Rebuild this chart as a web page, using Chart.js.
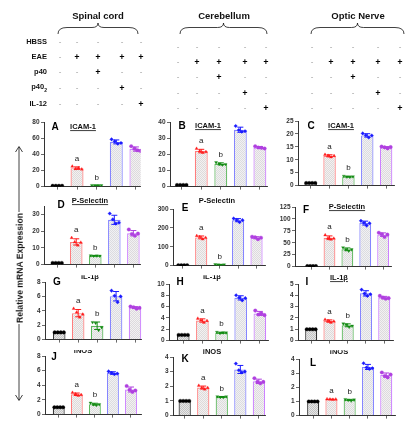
<!DOCTYPE html>
<html>
<head>
<meta charset="utf-8">
<script src="https://cdn.jsdelivr.net/npm/chart.js@4.4.0/dist/chart.umd.min.js"></script>
<style>
html, body { margin: 0; padding: 0; background: #fff; }
#fig { position: relative; width: 418px; height: 424px; overflow: hidden; font-family: "Liberation Sans", Arial, sans-serif; }
.t { position: absolute; white-space: nowrap; font-weight: bold; color: #111; transform: translate(-50%, -50%); line-height: 1; will-change: transform; }
canvas { position: absolute; }
svg { position: absolute; left: 0; top: 0; }
</style>
</head>
<body>
<div id="fig">
  <svg id="lines" width="418" height="424"></svg>
</div>
<script>
// treatment table
const regions = ['Spinal cord', 'Cerebellum', 'Optic Nerve'];
const treatments = ['HBSS', 'EAE', 'p40', 'p40<sub style="font-size:5px">2</sub>', 'IL-12'];
const signs = [
  ['-', '-', '-', '-', '-'],
  ['-', '+', '+', '+', '+'],
  ['-', '-', '+', '-', '-'],
  ['-', '-', '-', '+', '-'],
  ['-', '-', '-', '-', '+']
];

// panels
const panelLetters = ['A', 'B', 'C', 'D', 'E', 'F', 'G', 'H', 'I', 'J', 'K', 'L'];
const genes = ['ICAM-1', 'P-Selectin', 'IL-1β', 'iNOS'];
const yMax = [80, 40, 25, 35, 300, 125, 8, 10, 5, 8, 4, 4];
const yStep = [20, 10, 5, 5, 100, 25, 2, 2, 1, 2, 1, 1];
const sigLetters = ['', 'a', 'b', '', ''];

// replicate values, groups: HBSS, EAE, EAE+p40, EAE+p40(2), EAE+IL-12
const icamSC = [[1, 1, 1, 1], [25, 22, 23, 21.5], [1.6, 1.4, 1.5, 1.5], [58.5, 56, 53, 54], [50, 47, 45, 44]];
const icamCB = [[1, 1, 1, 1], [23.5, 22, 21, 21.5], [15, 14, 13.5, 13.8], [37.5, 35, 34, 34.3], [25, 24.2, 24, 23.6]];
const icamON = [[1, 1, 1, 1], [12, 11.6, 11, 11.5], [3.7, 3.4, 3.3, 3.5], [20.2, 19.5, 18.6, 19.4], [15.1, 14.8, 14.4, 14.9]];
const pselSC = [[1, 1, 1, 1], [16, 13.5, 11.5, 13.2], [5.4, 5.2, 5.3, 5.2], [30.5, 27, 24.5, 25], [21, 18.3, 17.2, 18.5]];
const pselCB = [[2, 2, 2, 2], [158, 152, 140, 148], [6, 5, 4, 5], [250, 242, 230, 241], [153, 150, 140, 148]];
const pselON = [[1, 1, 1, 1], [66, 60, 57, 59], [40, 36, 33, 36], [96, 92, 86, 91], [71, 68, 62, 67]];
const il1bSC = [[1, 1, 1, 1], [4.3, 3.8, 3.1, 3.5], [2.4, 2.3, 1.3, 1.7], [6.8, 6.1, 5.2, 6.0], [4.6, 4.5, 4.3, 4.4]];
const il1bCB = [[1, 1, 1, 1], [3.9, 3.6, 3.2, 3.5], [1.5, 1.3, 1.4, 1.4], [8.0, 7.6, 7.1, 7.5], [5.3, 4.6, 4.8, 4.5]];
const il1bON = [[1, 1, 1, 1], [1.85, 1.75, 1.6, 1.7], [1.5, 1.4, 1.2, 1.3], [4.5, 4.15, 3.95, 4.1], [3.95, 3.8, 3.7, 3.75]];
const inosSC = [[1, 1, 1, 1], [3.0, 2.8, 2.6, 2.7], [1.6, 1.4, 1.3, 1.4], [5.9, 5.7, 5.5, 5.6], [3.9, 3.4, 3.1, 3.3]];
const inosCB = [[1, 1, 1, 1], [2.05, 1.9, 1.8, 1.9], [1.3, 1.25, 1.25, 1.3], [3.55, 3.1, 2.95, 3.0], [2.55, 2.3, 2.2, 2.3]];
const inosON = [[1, 1, 1, 1], [1.17, 1.15, 1.13, 1.15], [1.15, 1.1, 1.05, 1.12], [3.7, 3.4, 3.3, 3.35], [3.05, 2.8, 2.7, 2.9]];

const panels = [icamSC, icamCB, icamON, pselSC, pselCB, pselON, il1bSC, il1bCB, il1bON, inosSC, inosCB, inosON];

// styles
const dotColors = ['#000000', '#ff1a1a', '#138a13', '#1a1aff', '#b040e0'];
const edgeColors = ['#333333', '#ff7d7d', '#5cb85c', '#8585ff', '#cc80ff'];
const dotStyles = ['circle', 'triangle', 'triangle', 'rectRot', 'circle'];
const dotRot = [0, 0, 180, 0, 0];
const jitter = [-0.24, -0.08, 0.08, 0.24];

// panel placement: y axis x, first bar centre, bar step, x axis end, top tick y, zero y
const geom = [
  { ax: 44, x1: 57.7, dx: 20.1, xe: 143, top: 121.5, zero: 186.3 },
  { ax: 170, x1: 182, dx: 20, xe: 270, top: 121.5, zero: 186.3 },
  { ax: 298, x1: 311, dx: 19.3, xe: 397, top: 121.3, zero: 186.2 },
  { ax: 44, x1: 57.5, dx: 19.5, xe: 143, top: 206, zero: 265.3 },
  { ax: 173, x1: 183, dx: 18.9, xe: 268, top: 208.5, zero: 265.3 },
  { ax: 295, x1: 312, dx: 18.3, xe: 394, top: 207, zero: 266.5 },
  { ax: 44.5, x1: 59, dx: 19.3, xe: 143, top: 282.3, zero: 340 },
  { ax: 168.5, x1: 183, dx: 19.5, xe: 270, top: 284, zero: 341 },
  { ax: 298, x1: 311.5, dx: 18.7, xe: 396, top: 284.3, zero: 341.5 },
  { ax: 44.5, x1: 58.5, dx: 18.4, xe: 143, top: 356, zero: 414.7 },
  { ax: 173, x1: 185, dx: 19, xe: 268, top: 357, zero: 415.5 },
  { ax: 299, x1: 313.5, dx: 18.7, xe: 398, top: 359.3, zero: 416.7 }
];

const titlePos = [
  { lx: 55, ly: 127, tx: 83, ty: 126.5, u: true },
  { lx: 181.7, ly: 126, tx: 208, ty: 125.7, u: true },
  { lx: 311, ly: 126, tx: 341, ty: 125.5, u: true },
  { lx: 60.7, ly: 205.3, tx: 90, ty: 200.5, u: true },
  { lx: 185, ly: 207.7, tx: 216.7, ty: 201, u: false },
  { lx: 306, ly: 210, tx: 346.7, ty: 206.5, u: true },
  { lx: 57, ly: 282.3, tx: 90, ty: 277, u: false, clip: 275.5 },
  { lx: 180, ly: 281.7, tx: 212, ty: 277, u: false, clip: 275.5 },
  { lx: 307, ly: 282, tx: 339, ty: 277.5, u: true },
  { lx: 54, ly: 357, tx: 83, ty: 351, u: false, clip: 350 },
  { lx: 185, ly: 359, tx: 211.7, ty: 351.7, u: false },
  { lx: 313, ly: 362.5, tx: 339, ty: 351.5, u: false, clip: 350 }
];

const fig = document.getElementById('fig');
const svg = document.getElementById('lines');

function addText(html, x, y, css) {
  const d = document.createElement('div');
  d.className = 't';
  d.innerHTML = html;
  d.style.left = x + 'px';
  d.style.top = y + 'px';
  Object.assign(d.style, css || {});
  fig.appendChild(d);
  return d;
}

function addPath(d, w) {
  const p = document.createElementNS('http://www.w3.org/2000/svg', 'path');
  p.setAttribute('d', d);
  p.setAttribute('fill', 'none');
  p.setAttribute('stroke', '#111');
  p.setAttribute('stroke-width', w || 0.8);
  svg.appendChild(p);
}

// header: region names + braces
const braceX = [[58, 138], [180, 267], [311, 404]];
regions.forEach((r, i) => {
  const [x1, x2] = braceX[i];
  const m = (x1 + x2) / 2;
  addText(r, m, 15.5, { fontSize: '9.5px' });
  const yt = 23, ym = 27.5, yb = 34;
  addPath(`M${x1},${yb} Q${x1},${ym} ${x1 + 9},${ym} L${m - 6},${ym} Q${m},${ym} ${m},${yt} Q${m},${ym} ${m + 6},${ym} L${x2 - 9},${ym} Q${x2},${ym} ${x2},${yb}`);
});

// treatment rows
const signCols = [[60, 77.3, 98.3, 121.7, 141], [178, 196.7, 219.3, 245, 265.7], [311.7, 330.7, 353.3, 378.3, 400]];
const signRows = [[42.3, 57.3, 72.3, 88.3, 104.3], [46.7, 61.7, 77.3, 92.7, 107.7], [46.7, 61.7, 77.3, 92.7, 107.7]];
treatments.forEach((t, r) => {
  addText(t, 47, signRows[0][r], { fontSize: '7.5px', transform: 'translate(-100%, -50%)' });
});
signCols.forEach((cols, k) => {
  signs.forEach((row, r) => {
    row.forEach((s, c) => {
      if (s === '+') addText('+', cols[c], signRows[k][r], { fontSize: '9px', color: '#000' });
      else addText('-', cols[c], signRows[k][r], { fontSize: '8px', color: '#999', fontWeight: 'normal' });
    });
  });
});

// y label arrow
addPath('M19,147 L19,400');
addPath('M15.5,152 L19,146.5 L22.5,152');
addPath('M15.5,395 L19,400.5 L22.5,395');
addText('Relative mRNA Expression', 19.5, 268, {
  fontSize: '8.6px', background: '#fff', padding: '0 1px',
  transform: 'translate(-50%, -50%) rotate(-90deg)'
});

// bar fill patterns (fine checker, light grey)
function makePattern(base, dot) {
  const c = document.createElement('canvas');
  c.width = 2; c.height = 2;
  const g = c.getContext('2d');
  g.fillStyle = base; g.fillRect(0, 0, 2, 2);
  g.fillStyle = dot; g.fillRect(0, 0, 1, 1); g.fillRect(1, 1, 1, 1);
  return g.createPattern(c, 'repeat');
}
const fills = [
  makePattern('#e6e6e6', '#c4c4c4'),
  makePattern('#f3f1f1', '#dedada'),
  makePattern('#f1f1f1', '#dcdcdc'),
  makePattern('#f1f1f3', '#dcdce0'),
  makePattern('#f2f1f2', '#dddadd')
];

const mean = a => a.reduce((s, v) => s + v, 0) / a.length;
const sd = a => { const m = mean(a); return Math.sqrt(a.reduce((s, v) => s + (v - m) * (v - m), 0) / (a.length - 1)); };

const errorBars = {
  id: 'errorBars',
  afterDatasetDraw(chart, args) {
    if (args.index !== 0) return;
    const vals = chart.options.plugins.errorBars.vals;
    const ctx = chart.ctx, xs = chart.scales.x, ys = chart.scales.y;
    ctx.save();
    ctx.lineWidth = 1;
    vals.forEach((pts, i) => {
      const m = mean(pts), s = sd(pts);
      const x = xs.getPixelForValue(i + 1);
      const yt = ys.getPixelForValue(m + s), yb = ys.getPixelForValue(Math.max(0, m - s));
      ctx.strokeStyle = dotColors[i];
      ctx.beginPath();
      ctx.moveTo(x, yb); ctx.lineTo(x, yt);
      ctx.moveTo(x - 3, yt); ctx.lineTo(x + 3, yt);
      ctx.moveTo(x - 3, yb); ctx.lineTo(x + 3, yb);
      ctx.stroke();
    });
    ctx.restore();
  },
  afterDraw(chart) {
    const vals = chart.options.plugins.errorBars.vals;
    const ctx = chart.ctx, xs = chart.scales.x, ys = chart.scales.y;
    ctx.save();
    ctx.font = '8px "Liberation Sans", Arial, sans-serif';
    ctx.fillStyle = '#222';
    ctx.textAlign = 'center';
    ctx.textBaseline = 'bottom';
    vals.forEach((pts, i) => {
      if (!sigLetters[i]) return;
      const top = Math.max(mean(pts) + sd(pts), Math.max(...pts));
      ctx.fillText(sigLetters[i], xs.getPixelForValue(i + 1), ys.getPixelForValue(top) - 4);
    });
    ctx.restore();
  }
};

const YW = 24, PT = 6, XH = 5, PR = 2;

panels.forEach((vals, p) => {
  const g = geom[p];
  const cv = document.createElement('canvas');
  const w = Math.round(YW + (g.xe - g.ax) + PR);
  const h = Math.round(PT + (g.zero - g.top) + XH);
  cv.width = w; cv.height = h;
  cv.style.left = (g.ax - YW) + 'px';
  cv.style.top = (g.top - PT) + 'px';
  fig.appendChild(cv);

  const dots = [], dotCol = [], dotSty = [], dotR = [];
  vals.forEach((pts, i) => {
    pts.forEach((v, k) => {
      dots.push({ x: i + 1 + jitter[k], y: v });
      dotCol.push(dotColors[i]);
      dotSty.push(dotStyles[i]);
      dotR.push(dotRot[i]);
    });
  });

  new Chart(cv, {
    type: 'bar',
    data: {
      datasets: [{
        type: 'bar',
        data: vals.map((pts, i) => ({ x: i + 1, y: mean(pts) })),
        backgroundColor: fills,
        borderColor: edgeColors,
        borderWidth: 1.2,
        barPercentage: 0.66,
        categoryPercentage: 1,
        order: 2
      }, {
        type: 'scatter',
        data: dots,
        pointBackgroundColor: dotCol,
        pointBorderColor: dotCol,
        pointStyle: dotSty,
        rotation: dotR,
        pointRadius: 1.8,
        pointBorderWidth: 0.3,
        order: 1
      }]
    },
    options: {
      responsive: false,
      animation: false,
      events: [],
      layout: { padding: { top: PT, right: PR, left: 0, bottom: 0 } },
      plugins: { legend: { display: false }, tooltip: { enabled: false }, errorBars: { vals } },
      scales: {
        x: {
          type: 'linear',
          offset: false,
          min: 1 - (g.x1 - g.ax) / g.dx,
          max: 1 + (g.xe - g.x1) / g.dx,
          afterBuildTicks: s => { s.ticks = [1, 2, 3, 4, 5].map(v => ({ value: v })); },
          afterFit: s => { s.height = XH; },
          ticks: { callback: () => '', padding: 0, font: { size: 1 } },
          grid: { drawOnChartArea: false, offset: false, tickLength: 3, color: '#444', lineWidth: 0.8 },
          border: { color: '#333', width: 1 }
        },
        y: {
          min: 0,
          max: yMax[p],
          afterFit: s => { s.width = YW; },
          ticks: { stepSize: yStep[p], padding: 1.5, color: '#333', font: { family: '"Liberation Sans", Arial', size: 6.5, weight: 'bold' } },
          grid: { drawOnChartArea: false, tickLength: 3, color: '#444', lineWidth: 0.8 },
          border: { color: '#333', width: 1 }
        }
      }
    },
    plugins: [errorBars]
  });

  // panel letter and title
  const tp = titlePos[p];
  addText(panelLetters[p], tp.lx, tp.ly, { fontSize: '10px', color: '#000' });
  const title = addText(genes[Math.floor(p / 3)], tp.tx, tp.ty, { fontSize: '7.5px', color: '#111' });
  if (tp.u) title.style.textDecoration = 'underline';
  if (tp.clip) title.style.clipPath = `inset(${(tp.clip - (tp.ty - 3.75)).toFixed(1)}px 0 0 0)`;
});
</script>
</body>
</html>
